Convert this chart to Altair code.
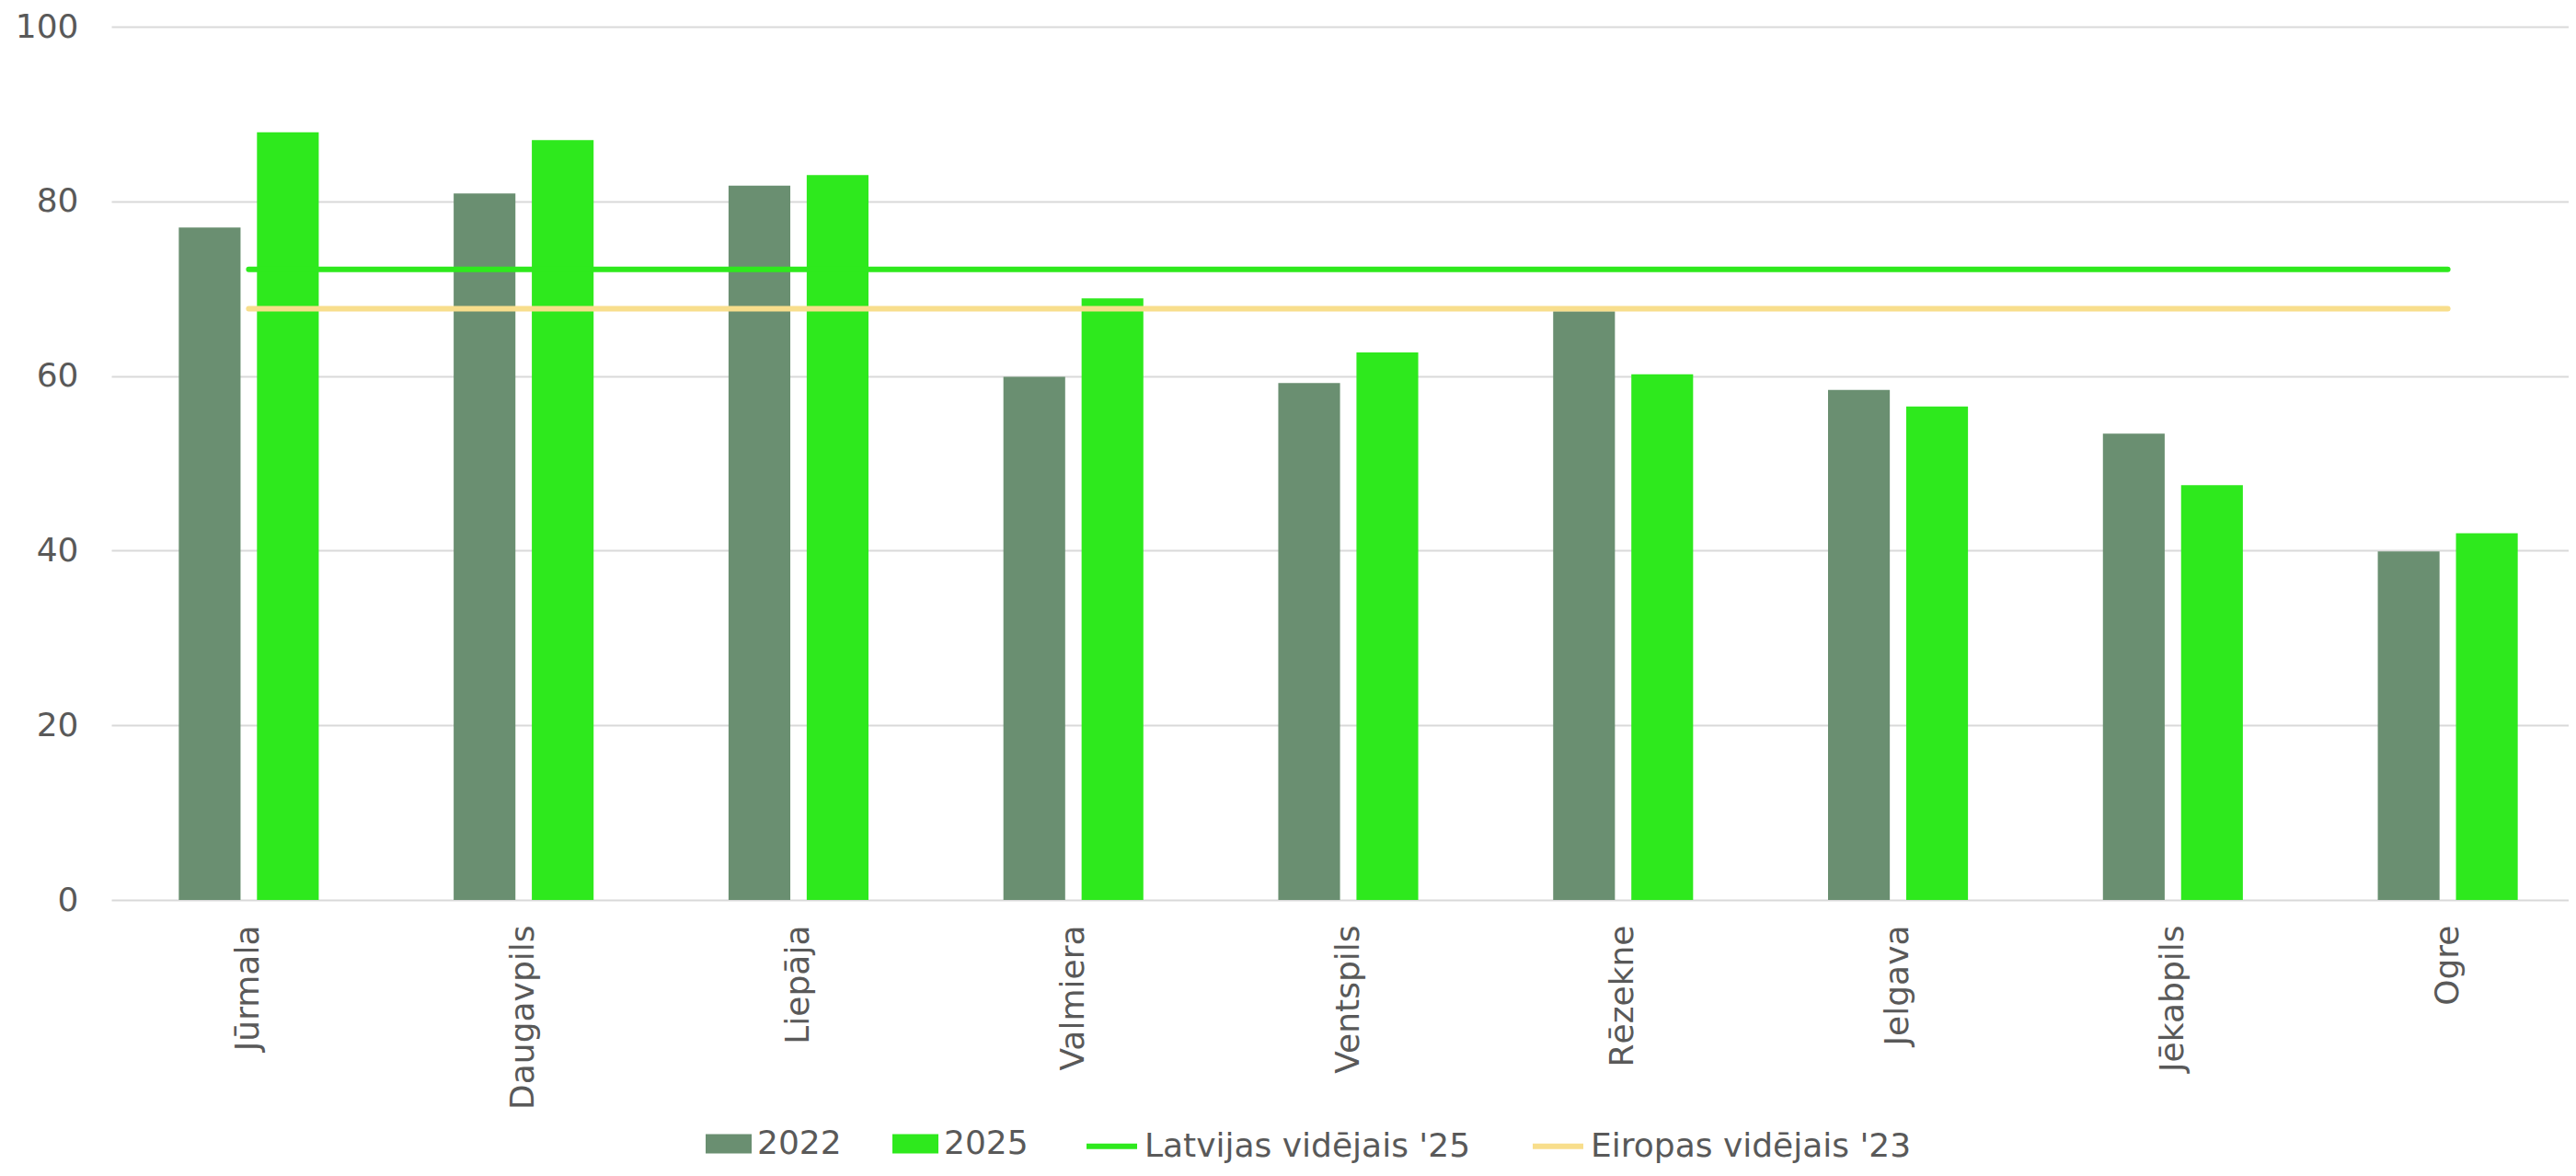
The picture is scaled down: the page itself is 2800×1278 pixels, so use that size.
import altair as alt
import pandas as pd

cities = ["Jūrmala", "Daugavpils", "Liepāja", "Valmiera", "Ventspils",
          "Rēzekne", "Jelgava", "Jēkabpils", "Ogre"]
v2022 = [77.0, 80.9, 81.8, 59.9, 59.2, 67.4, 58.4, 53.4, 39.9]
v2025 = [87.9, 87.0, 83.0, 68.9, 62.7, 60.2, 56.5, 47.5, 42.0]
years = ["2022", "2025"]
line_names = ["Latvijas vidējais '25", "Eiropas vidējais '23"]
lv_avg = 72.2
eu_avg = 67.7
y_ticks = [0, 20, 40, 60, 80, 100]

bar_colors = ["#6a8f71", "#2ee91d"]
line_colors = ["#2ee91d", "#f8de8c"]
TXT = "#595959"
FONT = "DejaVu Sans"

bars_df = pd.DataFrame({
    "city": cities * 2,
    "year": [years[0]] * len(cities) + [years[1]] * len(cities),
    "value": v2022 + v2025,
})
lines_df = pd.DataFrame({
    "city": cities * 2,
    "series": [line_names[0]] * len(cities) + [line_names[1]] * len(cities),
    "value": [lv_avg] * len(cities) + [eu_avg] * len(cities),
})

x_scale = alt.Scale(domain=cities, paddingInner=0, paddingOuter=0)
x_axis = alt.Axis(title=None, labelAngle=270, labelFontSize=36, labelColor=TXT,
                  labelFont=FONT, ticks=False, tickSize=0, domain=False,
                  labelPadding=27, labelLimit=600, grid=False)
y_scale = alt.Scale(domain=[0, 100])
y_axis = alt.Axis(title=None, values=y_ticks, domain=False, ticks=False, tickSize=0,
                  labelPadding=36, labelFontSize=36, labelColor=TXT, labelFont=FONT,
                  gridColor="#d9d9d9", gridWidth=2)

bars = alt.Chart(bars_df).mark_bar().encode(
    x=alt.X("city:N", sort=cities, scale=x_scale, axis=x_axis),
    y=alt.Y("value:Q", scale=y_scale, axis=y_axis),
    xOffset=alt.XOffset("year:N", sort=years,
                        scale=alt.Scale(paddingInner=0.21, paddingOuter=0.863)),
    color=alt.Color(
        "year:N", sort=years,
        scale=alt.Scale(domain=years, range=bar_colors),
        legend=alt.Legend(
            title=None, orient="none", legendX=646, legendY=1189,
            direction="horizontal", labelFontSize=36, labelColor=TXT, labelFont=FONT,
            symbolType="M-1,-0.42H1V0.42H-1Z", symbolSize=2500, symbolStrokeWidth=0,
            labelOffset=6, columnPadding=55, padding=0, symbolOpacity=1,
            labelLimit=800,
        ),
    ),
)

lines = alt.Chart(lines_df).mark_line(strokeWidth=6, strokeCap="round").encode(
    x=alt.X("city:N", sort=cities, scale=x_scale, axis=x_axis),
    y=alt.Y("value:Q", scale=y_scale, axis=y_axis),
    stroke=alt.Stroke(
        "series:N", sort=line_names,
        scale=alt.Scale(domain=line_names, range=line_colors),
        legend=alt.Legend(
            title=None, orient="none", legendX=1057, legendY=1186,
            direction="horizontal", labelFontSize=36, labelColor=TXT, labelFont=FONT,
            symbolType="stroke", symbolSize=3025, symbolStrokeWidth=6,
            labelOffset=5, columnPadding=55, padding=0, symbolOpacity=1,
            labelLimit=800,
        ),
    ),
)

chart = alt.layer(bars, lines).properties(
    width=2689, height=949,
    autosize=alt.AutoSizeParams(type="none"),
    padding={"left": 113, "top": 21, "right": -18, "bottom": 292},
    background="white",
).configure_view(stroke=None)

chart.save("out.html", embed_options={"renderer": "svg", "actions": False})
